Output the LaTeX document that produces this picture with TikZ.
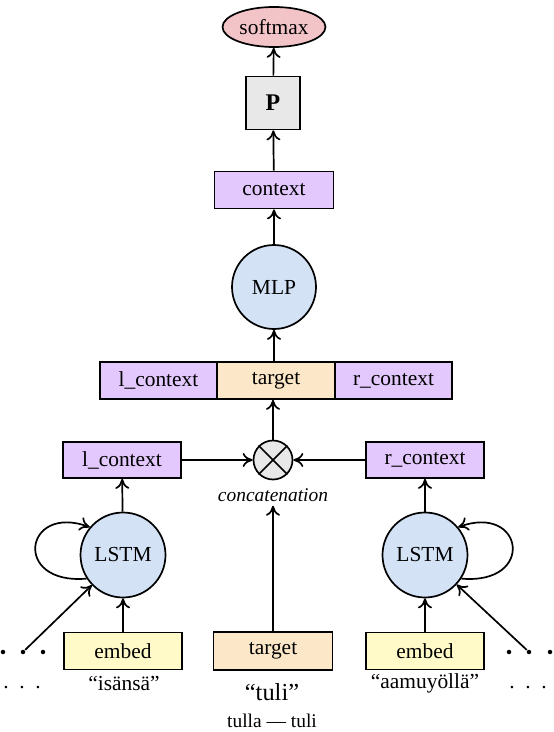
\documentclass[tikz,border=0pt]{standalone}
\usepackage{fontspec}
\setmainfont{Liberation Serif}
\usetikzlibrary{arrows.meta,shapes.geometric}
\definecolor{unitblue}{RGB}{212,226,246}
\definecolor{ctxpurple}{RGB}{226,200,252}
\definecolor{tgtbeige}{RGB}{252,232,200}
\definecolor{embyellow}{RGB}{255,250,200}
\definecolor{softpink}{RGB}{242,196,200}
\definecolor{pgray}{RGB}{232,232,232}

\begin{document}
\begin{tikzpicture}[x=1bp,y=1bp,>={To[length=10bp,width=14bp]},line width=1.7bp,
 font=\fontsize{21.5}{26}\selectfont,
 box/.style={draw,minimum width=117bp,minimum height=37bp,inner sep=0pt},
 ctx/.style={box,fill=ctxpurple},tgt/.style={box,fill=tgtbeige},
 emb/.style={box,fill=embyellow},
 unit/.style={draw,circle,fill=unitblue,minimum size=85bp,inner sep=0pt},
 dotnode/.style={circle,fill,inner sep=0pt,minimum size=4.5bp}]
\useasboundingbox (0,0) rectangle (554,-732);
% top of the network
\node[draw,ellipse,fill=softpink,minimum width=103bp,minimum height=40bp,inner sep=0pt] (soft) at (274,-27) {softmax};
\node[draw,fill=pgray,minimum width=54bp,minimum height=53bp,inner sep=0pt,font=\fontsize{24}{28}\selectfont\bfseries] (proj) at (273,-103) {P};
\node[ctx,minimum width=119bp] (ctx) at (274,-190) {context};
\node[unit,minimum size=84bp] (mlp) at (274,-287) {MLP};
\node[ctx] (lrow) at (158.5,-380.5) {l\_context};
\node[tgt] (trow) at (276,-380.5) {target};
\node[ctx] (rrow) at (393.5,-380.5) {r\_context};
\draw[->] (proj) -- (soft);
\draw[->] (ctx) -- (proj);
\draw[->] (mlp) -- (ctx);
\draw[->] (trow.north -| mlp) -- (mlp);
% concatenation
\node[ctx,minimum width=118bp,minimum height=36bp] (lctx) at (122,-460) {l\_context};
\node[ctx,minimum width=118bp,minimum height=36bp] (rctx) at (425,-460) {r\_context};
\node[draw,circle,fill=pgray,minimum size=39bp,inner sep=0pt] (cat) at (273,-460) {};
\draw (cat.45) -- (cat.225) (cat.135) -- (cat.315);
\node[font=\fontsize{19.5}{23}\selectfont\itshape] (catlbl) at (273,-495) {concatenation};
\draw[->] (cat) -- (cat |- trow.south);
\draw[->] (lctx) -- (cat);
\draw[->] (rctx) -- (cat);
% LSTMs and inputs
\node[unit] (lstml) at (123,-555) {LSTM};
\node[unit] (lstmr) at (425,-555) {LSTM};
\node[emb,minimum width=118bp] (embl) at (123,-651) {embed};
\node[tgt,minimum width=119bp,minimum height=38bp] (tgtb) at (273,-651) {target};
\node[emb,minimum width=118bp] (embr) at (425,-651) {embed};
\foreach \x [count=\i] in {3,23,43} \node[dotnode] (dl\i) at (\x,-652) {};
\foreach \x [count=\i] in {509,529,550} \node[dotnode] (dr\i) at (\x,-652) {};
\draw[->] (embl) -- (lstml);
\draw[->] (embr) -- (lstmr);
\draw[->] (dl2) -- (lstml);
\draw[->] (dr2) -- (lstmr);
\draw[->] (lstml.213) .. controls +(185:75) and +(160:70) .. (lstml.140);
\draw[->] (lstmr.327) .. controls +(-5:75) and +(20:70) .. (lstmr.40);
\draw[->] (lstml) -- (lctx);
\draw[->] (lstmr) -- (rctx);
\draw[->] (tgtb) -- (catlbl);
% words
\node (wl) at (124,-683) {“isänsä”};
\node[font=\fontsize{24.5}{29}\selectfont] (wt) at (272,-692) {“tuli”};
\node (wr) at (425,-683) {“aamuyöllä”};
\node (ldots) at (22,-688) {.\enspace.\enspace.};
\node (rdots) at (528,-688) {.\enspace.\enspace.};
\node[font=\fontsize{19.5}{23}\selectfont] (lemma) at (272,-721) {tulla — tuli};
\end{tikzpicture}
\end{document}
